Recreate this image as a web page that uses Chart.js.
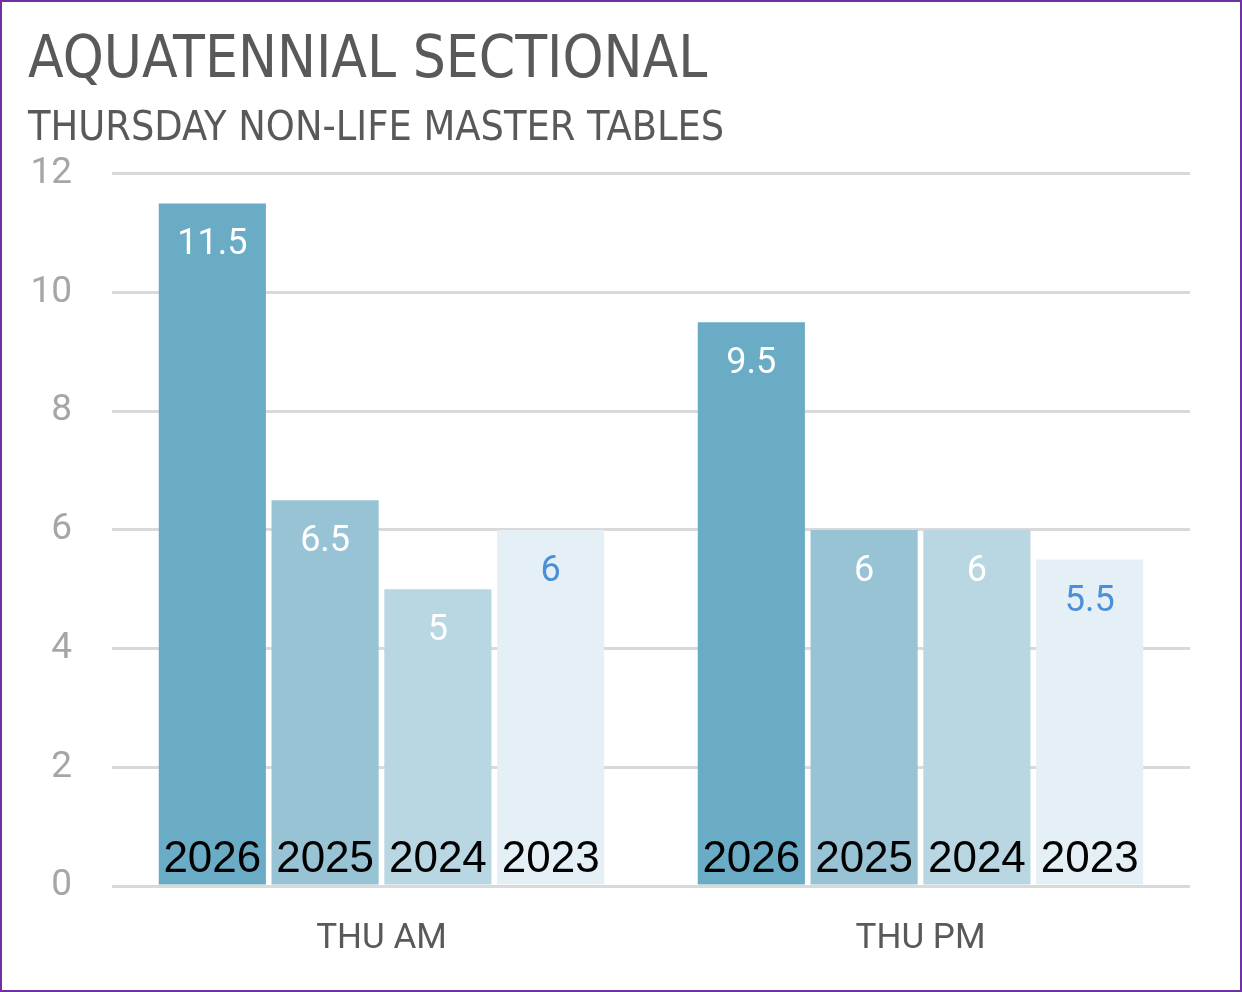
<!DOCTYPE html>
<html>
<head>
<meta charset="utf-8">
<script src="https://cdn.jsdelivr.net/npm/chart.js@4.4.1/dist/chart.umd.min.js"></script>
<style>
html,body{margin:0;padding:0;background:#fff;}
#wrap{width:1242px;height:992px;box-sizing:border-box;border:2px solid #7030A0;position:relative;}
canvas{display:block;}
</style>
</head>
<body>
<div id="wrap"><canvas id="c" width="1238" height="988"></canvas></div>
<script>
const titleText = "AQUATENNIAL SECTIONAL";
const subtitleText = "THURSDAY NON-LIFE MASTER TABLES";
const categories = ["THU AM", "THU PM"];
const years = ["2026", "2025", "2024", "2023"];
const values2026 = [11.5, 9.5];
const values2025 = [6.5, 6];
const values2024 = [5, 6];
const values2023 = [6, 5.5];
const yTicks = [0, 2, 4, 6, 8, 10, 12];

const barColors = ["#6AABC6", "#97C3D5", "#B8D7E3", "#E5F0F6"];
const valueColors = ["#FFFFFF", "#FFFFFF", "#FFFFFF", "#4A8FD9"];
const seriesValues = [values2026, values2025, values2024, values2023];

const labelPlugin = {
  id: 'barLabels',
  afterDatasetsDraw(chart) {
    const ctx = chart.ctx;
    chart.data.datasets.forEach((ds, i) => {
      const meta = chart.getDatasetMeta(i);
      meta.data.forEach((el, j) => {
        ctx.save();
        ctx.textAlign = 'center';
        ctx.font = '36px Roboto, "Liberation Sans", sans-serif';
        ctx.fillStyle = valueColors[i];
        ctx.textBaseline = 'middle';
        ctx.fillText(String(ds.data[j]), el.x, el.y + 42);
        ctx.font = '44px "Liberation Sans", Arial, sans-serif';
        ctx.fillStyle = '#000000';
        ctx.textBaseline = 'alphabetic';
        ctx.fillText(ds.label, el.x, el.base - 13);
        ctx.restore();
      });
    });
  }
};

new Chart(document.getElementById('c'), {
  type: 'bar',
  data: {
    labels: categories,
    datasets: years.map((y, i) => ({
      label: y,
      data: seriesValues[i],
      backgroundColor: barColors[i],
      borderWidth: 0,
      categoryPercentage: 0.837,
      barPercentage: 0.95
    }))
  },
  options: {
    responsive: false,
    animation: false,
    devicePixelRatio: 1,
    layout: { padding: { left: 26, right: 50, top: 25, bottom: 0 } },
    plugins: {
      legend: { display: false },
      tooltip: { enabled: false },
      title: {
        display: true,
        text: titleText,
        align: 'start',
        color: '#595959',
        font: { family: '"DejaVu Sans Condensed", "Liberation Sans Narrow", Roboto, sans-serif', size: 58, weight: 'normal' },
        padding: { top: 0, bottom: 8 }
      },
      subtitle: {
        display: true,
        text: subtitleText,
        align: 'start',
        color: '#595959',
        font: { family: '"DejaVu Sans Condensed", "Liberation Sans Narrow", Roboto, sans-serif', size: 41, weight: 'normal' },
        padding: { top: 0, bottom: 20 }
      }
    },
    scales: {
      x: {
        grid: { display: false },
        border: { display: false },
        ticks: { color: '#595959', font: { family: 'Roboto, sans-serif', size: 35 }, padding: 24 },
        afterFit(scale) { scale.height = 104; }
      },
      y: {
        min: 0,
        max: 12,
        z: 1,
        afterBuildTicks(scale) { scale.ticks = yTicks.map(v => ({ value: v })); },
        afterFit(scale) { scale.width = 84; },
        grid: { color: 'rgba(128,128,128,0.3)', lineWidth: 3, drawTicks: false },
        border: { display: false },
        ticks: { color: '#A6A6A6', font: { family: 'Roboto, sans-serif', size: 37 }, padding: 40 }
      }
    }
  },
  plugins: [labelPlugin]
});
</script>
</body>
</html>
